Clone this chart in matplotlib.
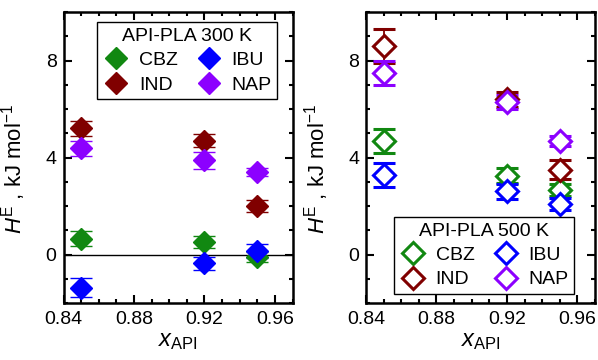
import matplotlib
matplotlib.use('Agg')
import matplotlib.pyplot as plt
from matplotlib.ticker import MultipleLocator

plt.rcParams['font.family'] = ['Liberation Sans', 'DejaVu Sans']
plt.rcParams['mathtext.fontset'] = 'custom'
plt.rcParams['mathtext.rm'] = 'Liberation Sans'
plt.rcParams['mathtext.it'] = 'Liberation Sans:italic'

# Data
x_api = [0.85, 0.92, 0.95]
drugs = ["CBZ", "IND", "IBU", "NAP"]   # legend order, two columns
colors = {"CBZ": "#118811", "IND": "#800000", "IBU": "#0000ff", "NAP": "#8c00ff"}

h300 = {"CBZ": [0.65, 0.5, -0.1], "IBU": [-1.37, -0.37, 0.15],
        "IND": [5.2, 4.7, 2.0], "NAP": [4.38, 3.88, 3.4]}
e300 = {"CBZ": [0.3, 0.25, 0.2], "IBU": [0.4, 0.25, 0.3],
        "IND": [0.3, 0.25, 0.25], "NAP": [0.3, 0.35, 0.15]}
h500 = {"CBZ": [4.67, 3.25, 2.67], "IBU": [3.28, 2.6, 2.1],
        "IND": [8.6, 6.4, 3.5], "NAP": [7.47, 6.28, 4.68]}
e500 = {"CBZ": [0.5, 0.3, 0.25], "IBU": [0.5, 0.3, 0.25],
        "IND": [0.7, 0.3, 0.4], "NAP": [0.5, 0.3, 0.2]}

fig = plt.figure(figsize=(5.98, 3.6), dpi=100)
ax1 = fig.add_axes([63.5/598, 1 - 303/360, 229/598, 291/360])
ax2 = fig.add_axes([366/598, 1 - 303/360, 229/598, 291/360])


def draw(ax, vals, errs, filled, title, loc, anchor):
    handles = []
    for d in drugs:
        c = colors[d]
        cont = ax.errorbar(x_api, vals[d], yerr=errs[d], fmt='D', color=c, ecolor=c,
                           ms=11, mfc=c if filled else 'white', mec=c,
                           mew=2.2 if not filled else 1, capsize=8, elinewidth=1.3,
                           capthick=1.3, label=d, zorder=3)
        handles.append(cont[0])
    ax.set_xlim(0.84, 0.97)
    ax.set_ylim(-2, 10)
    ax.xaxis.set_minor_locator(MultipleLocator(0.01))
    ax.yaxis.set_major_locator(MultipleLocator(4))
    ax.yaxis.set_minor_locator(MultipleLocator(1))
    ax.set_xticks([0.84, 0.88, 0.92, 0.96])
    ax.set_xticklabels(["0.84", "0.88", "0.92", "0.96"])
    ax.tick_params(which='both', direction='in', top=True, right=True,
                   labelsize=14, width=1.5)
    ax.tick_params(which='major', length=6)
    ax.tick_params(which='minor', length=3)
    ax.tick_params(axis='x', pad=6)
    ax.tick_params(axis='y', pad=5)
    for s in ax.spines.values():
        s.set_linewidth(1.8)
    ax.set_xlabel(r'$\mathit{x}_{\mathrm{API}}$', fontsize=17, labelpad=1)
    ax.set_ylabel(r'$\mathit{H}^{\mathrm{E}}$ , kJ mol$^{-1}$', fontsize=16)
    ax.yaxis.set_label_coords(-0.155, 0.46)
    leg = ax.legend(handles=handles, labels=drugs, ncol=2, loc=loc,
                    bbox_to_anchor=anchor, title=title, title_fontsize=14,
                    fontsize=14, fancybox=False, edgecolor='black', framealpha=1,
                    handletextpad=0.45, columnspacing=0.9, borderpad=0.3,
                    labelspacing=0.35, handlelength=1.4, borderaxespad=0)
    leg.get_frame().set_linewidth(1.0)


draw(ax1, h300, e300, True, "API-PLA 300 K", 'upper right', (0.933, 0.966))
ax1.axhline(0, color='black', lw=1, zorder=1)
draw(ax2, h500, e500, False, "API-PLA 500 K", 'lower right', (0.908, 0.03))

plt.savefig("out.png", dpi=100)
